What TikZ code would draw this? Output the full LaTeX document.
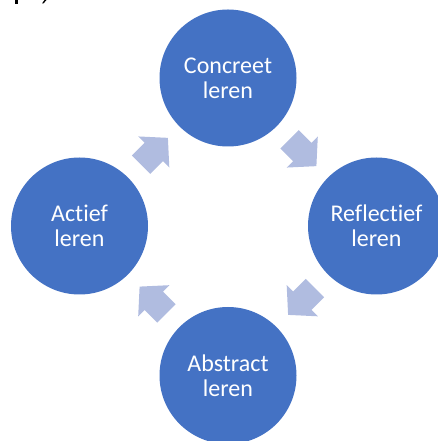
\documentclass[tikz,border=0pt]{standalone}
\usepackage{fontspec}
\setmainfont{Carlito}[RawFeature={-liga;-clig;-calt;-rlig;-dlig}]
\usetikzlibrary{calc}
\definecolor{cycleblue}{RGB}{68,114,196}
\definecolor{arrowblue}{RGB}{176,188,224}

\begin{document}
\begin{tikzpicture}[x=1pt,y=1pt,
  stage/.style={circle, fill=cycleblue, text=white, minimum size=137pt,
    inner sep=0pt, align=center, font=\fontsize{24}{25}\selectfont},
  flow/.style={fill=arrowblue}]
  \useasboundingbox (0,0) rectangle (438,441);
  % cut-off text at the top edge
  \fill [black] (15,437) rectangle (17.5,441);
  \fill [black] (42,437.5) -- (44.5,441) -- (46.5,441) -- (43.5,437.5) -- cycle;
  % stages
  \node [stage] (concreet) at (228,363) {Concreet\\leren};
  \node [stage] (reflectief) at (376.5,215) {Reflectief\\leren};
  \node [stage] (abstract) at (228,65.5) {Abstract\\leren};
  \node [stage] (actief) at (79.5,215) {Actief\\leren};
  % block arrows
  \fill [flow, shift={($(actief)!0.5!(concreet)$)}, rotate=45]
    (-18,-13) -- (0,-13) -- (0,-22) -- (20,0) -- (0,22) -- (0,13) -- (-18,13) -- cycle;
  \fill [flow, shift={($(concreet)!0.5!(reflectief)$)}, rotate=-45]
    (-18,-13) -- (0,-13) -- (0,-22) -- (20,0) -- (0,22) -- (0,13) -- (-18,13) -- cycle;
  \fill [flow, shift={($(reflectief)!0.5!(abstract)$)}, rotate=-135]
    (-18,-13) -- (0,-13) -- (0,-22) -- (20,0) -- (0,22) -- (0,13) -- (-18,13) -- cycle;
  \fill [flow, shift={($(abstract)!0.5!(actief)$)}, rotate=135]
    (-18,-13) -- (0,-13) -- (0,-22) -- (20,0) -- (0,22) -- (0,13) -- (-18,13) -- cycle;
\end{tikzpicture}
\end{document}
